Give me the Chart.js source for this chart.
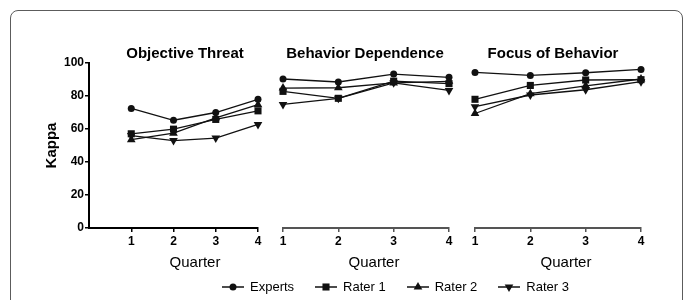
<!DOCTYPE html>
<html>
<head>
<meta charset="utf-8">
<script src="https://cdn.jsdelivr.net/npm/chart.js@4.4.1/dist/chart.umd.min.js"></script>
<style>
  body { margin: 0; background: #fff; font-family: "Liberation Sans", Arial, sans-serif; }
  #fig { position: relative; width: 683px; height: 300px; overflow: hidden; }
  #frame { position: absolute; left: 10px; top: 10px; width: 673px; height: 320px; box-sizing: border-box;
           border: 1.5px solid #5c5c5c; border-radius: 8px; }
  canvas { position: absolute; top: 0; }
  .ptitle { position: absolute; top: 44px; font-weight: bold; font-size: 15px; transform: translateX(-50%); white-space: nowrap; color: #000; }
  .xlab { position: absolute; top: 253px; font-size: 15px; transform: translateX(-50%); white-space: nowrap; color: #000; }
  #legend { position: absolute; left: 222px; top: 279px; display: flex; align-items: center; font-size: 13px; color: #000; }
  #legend .item { display: flex; align-items: center; margin-right: 21px; }
  #legend canvas { position: static; margin-right: 6px; }
</style>
</head>
<body>
<div id="fig">
  <div id="frame"></div>
  <canvas id="p0" width="270" height="300" style="left:0px"></canvas>
  <canvas id="p1" width="190" height="300" style="left:270px"></canvas>
  <canvas id="p2" width="200" height="300" style="left:462px"></canvas>
  <div class="ptitle" style="left:185px">Objective Threat</div>
  <div class="ptitle" style="left:365px">Behavior Dependence</div>
  <div class="ptitle" style="left:553px">Focus of Behavior</div>
  <div class="xlab" style="left:195px">Quarter</div>
  <div class="xlab" style="left:374px">Quarter</div>
  <div class="xlab" style="left:566px">Quarter</div>
  <div id="legend"></div>
</div>
<script>
// data (kappa per quarter, one row per panel)
const quarters = [1, 2, 3, 4];
const panelTitles = ['Objective Threat', 'Behavior Dependence', 'Focus of Behavior'];
const seriesNames = ['Experts', 'Rater 1', 'Rater 2', 'Rater 3'];
const yTicks = [0, 20, 40, 60, 80, 100];

const expertsKappa = [[72.5, 65.3, 70, 78], [90.3, 88.5, 93.3, 91.3], [94.3, 92.5, 94.1, 96.1]];
const rater1Kappa = [[57.1, 59.9, 65.8, 71], [82.8, 78.6, 89, 87.5], [78, 86.4, 89.7, 89.9]];
const rater2Kappa = [[53.5, 57.5, 66.8, 74.7], [84.8, 85, 87.9, 88.9], [69.4, 81.4, 86.2, 90.3]];
const rater3Kappa = [[56, 53, 54.5, 62.8], [74.9, 78.6, 88, 83.4], [73.5, 80.6, 83.8, 88.7]];

const allSeries = [expertsKappa, rater1Kappa, rater2Kappa, rater3Kappa];
const markers = [
  { pointStyle: 'circle', radius: 3.5, rotation: 0 },
  { pointStyle: 'rect', radius: 5, rotation: 0 },
  { pointStyle: 'triangle', radius: 5, rotation: 0 },
  { pointStyle: 'triangle', radius: 5, rotation: 180 }
];

Chart.defaults.font.family = '"Liberation Sans", Arial, sans-serif';
Chart.defaults.color = '#000';

const paddings = [
  { left: 40, right: 12, top: 63, bottom: 50 },
  { left: 13, right: 11, top: 63, bottom: 50 },
  { left: 13, right: 21, top: 63, bottom: 50 }
];

panelTitles.forEach((title, p) => {
  const datasets = seriesNames.map((name, s) => ({
    label: name,
    data: quarters.map((q, i) => ({ x: q, y: allSeries[s][p][i] })),
    borderColor: '#111',
    backgroundColor: '#111',
    borderWidth: 1.3,
    pointStyle: markers[s].pointStyle,
    pointRadius: markers[s].radius,
    pointRotation: markers[s].rotation,
    pointBorderWidth: 0,
    tension: 0,
    clip: false
  }));

  const axisColor = p === 0 ? '#000' : '#555';

  new Chart(document.getElementById('p' + p), {
    type: 'line',
    data: { datasets: datasets },
    options: {
      responsive: false,
      animation: false,
      devicePixelRatio: 1,
      layout: { padding: paddings[p] },
      plugins: { legend: { display: false }, tooltip: { enabled: false } },
      scales: {
        x: {
          type: 'linear',
          min: p === 0 ? 0 : 1,
          max: 4,
          afterBuildTicks: s => { s.ticks = quarters.map(v => ({ value: v })); },
          afterFit: s => { s.height = 22; },
          ticks: { font: { size: 12, weight: 'bold' }, padding: 2, maxRotation: 0 },
          grid: { drawOnChartArea: false, tickLength: 4, color: axisColor, lineWidth: 1.5 },
          border: { color: axisColor, width: 2 }
        },
        y: {
          display: p === 0,
          min: 0,
          max: 100,
          afterBuildTicks: s => { s.ticks = yTicks.map(v => ({ value: v })); },
          afterFit: s => { s.width = p === 0 ? 49 : 0; },
          ticks: { font: { size: 12, weight: 'bold' }, padding: 1 },
          grid: { drawOnChartArea: false, tickLength: 4, color: '#000', lineWidth: 1.5 },
          border: { color: '#000', width: 2 },
          title: { display: true, text: 'Kappa', font: { size: 15, weight: 'bold' }, padding: 3 }
        }
      }
    }
  });
});

// legend
const legend = document.getElementById('legend');
seriesNames.forEach((name, s) => {
  const item = document.createElement('div');
  item.className = 'item';
  const icon = document.createElement('canvas');
  icon.width = 22; icon.height = 14;
  const ctx = icon.getContext('2d');
  ctx.strokeStyle = '#111';
  ctx.fillStyle = '#111';
  ctx.lineWidth = 1.5;
  ctx.beginPath(); ctx.moveTo(0, 7); ctx.lineTo(22, 7); ctx.stroke();
  Chart.helpers.drawPoint(ctx, { pointStyle: markers[s].pointStyle, radius: markers[s].radius, rotation: markers[s].rotation, borderWidth: 0 }, 11, 7);
  const label = document.createElement('span');
  label.textContent = name;
  item.appendChild(icon);
  item.appendChild(label);
  legend.appendChild(item);
});
</script>
</body>
</html>
